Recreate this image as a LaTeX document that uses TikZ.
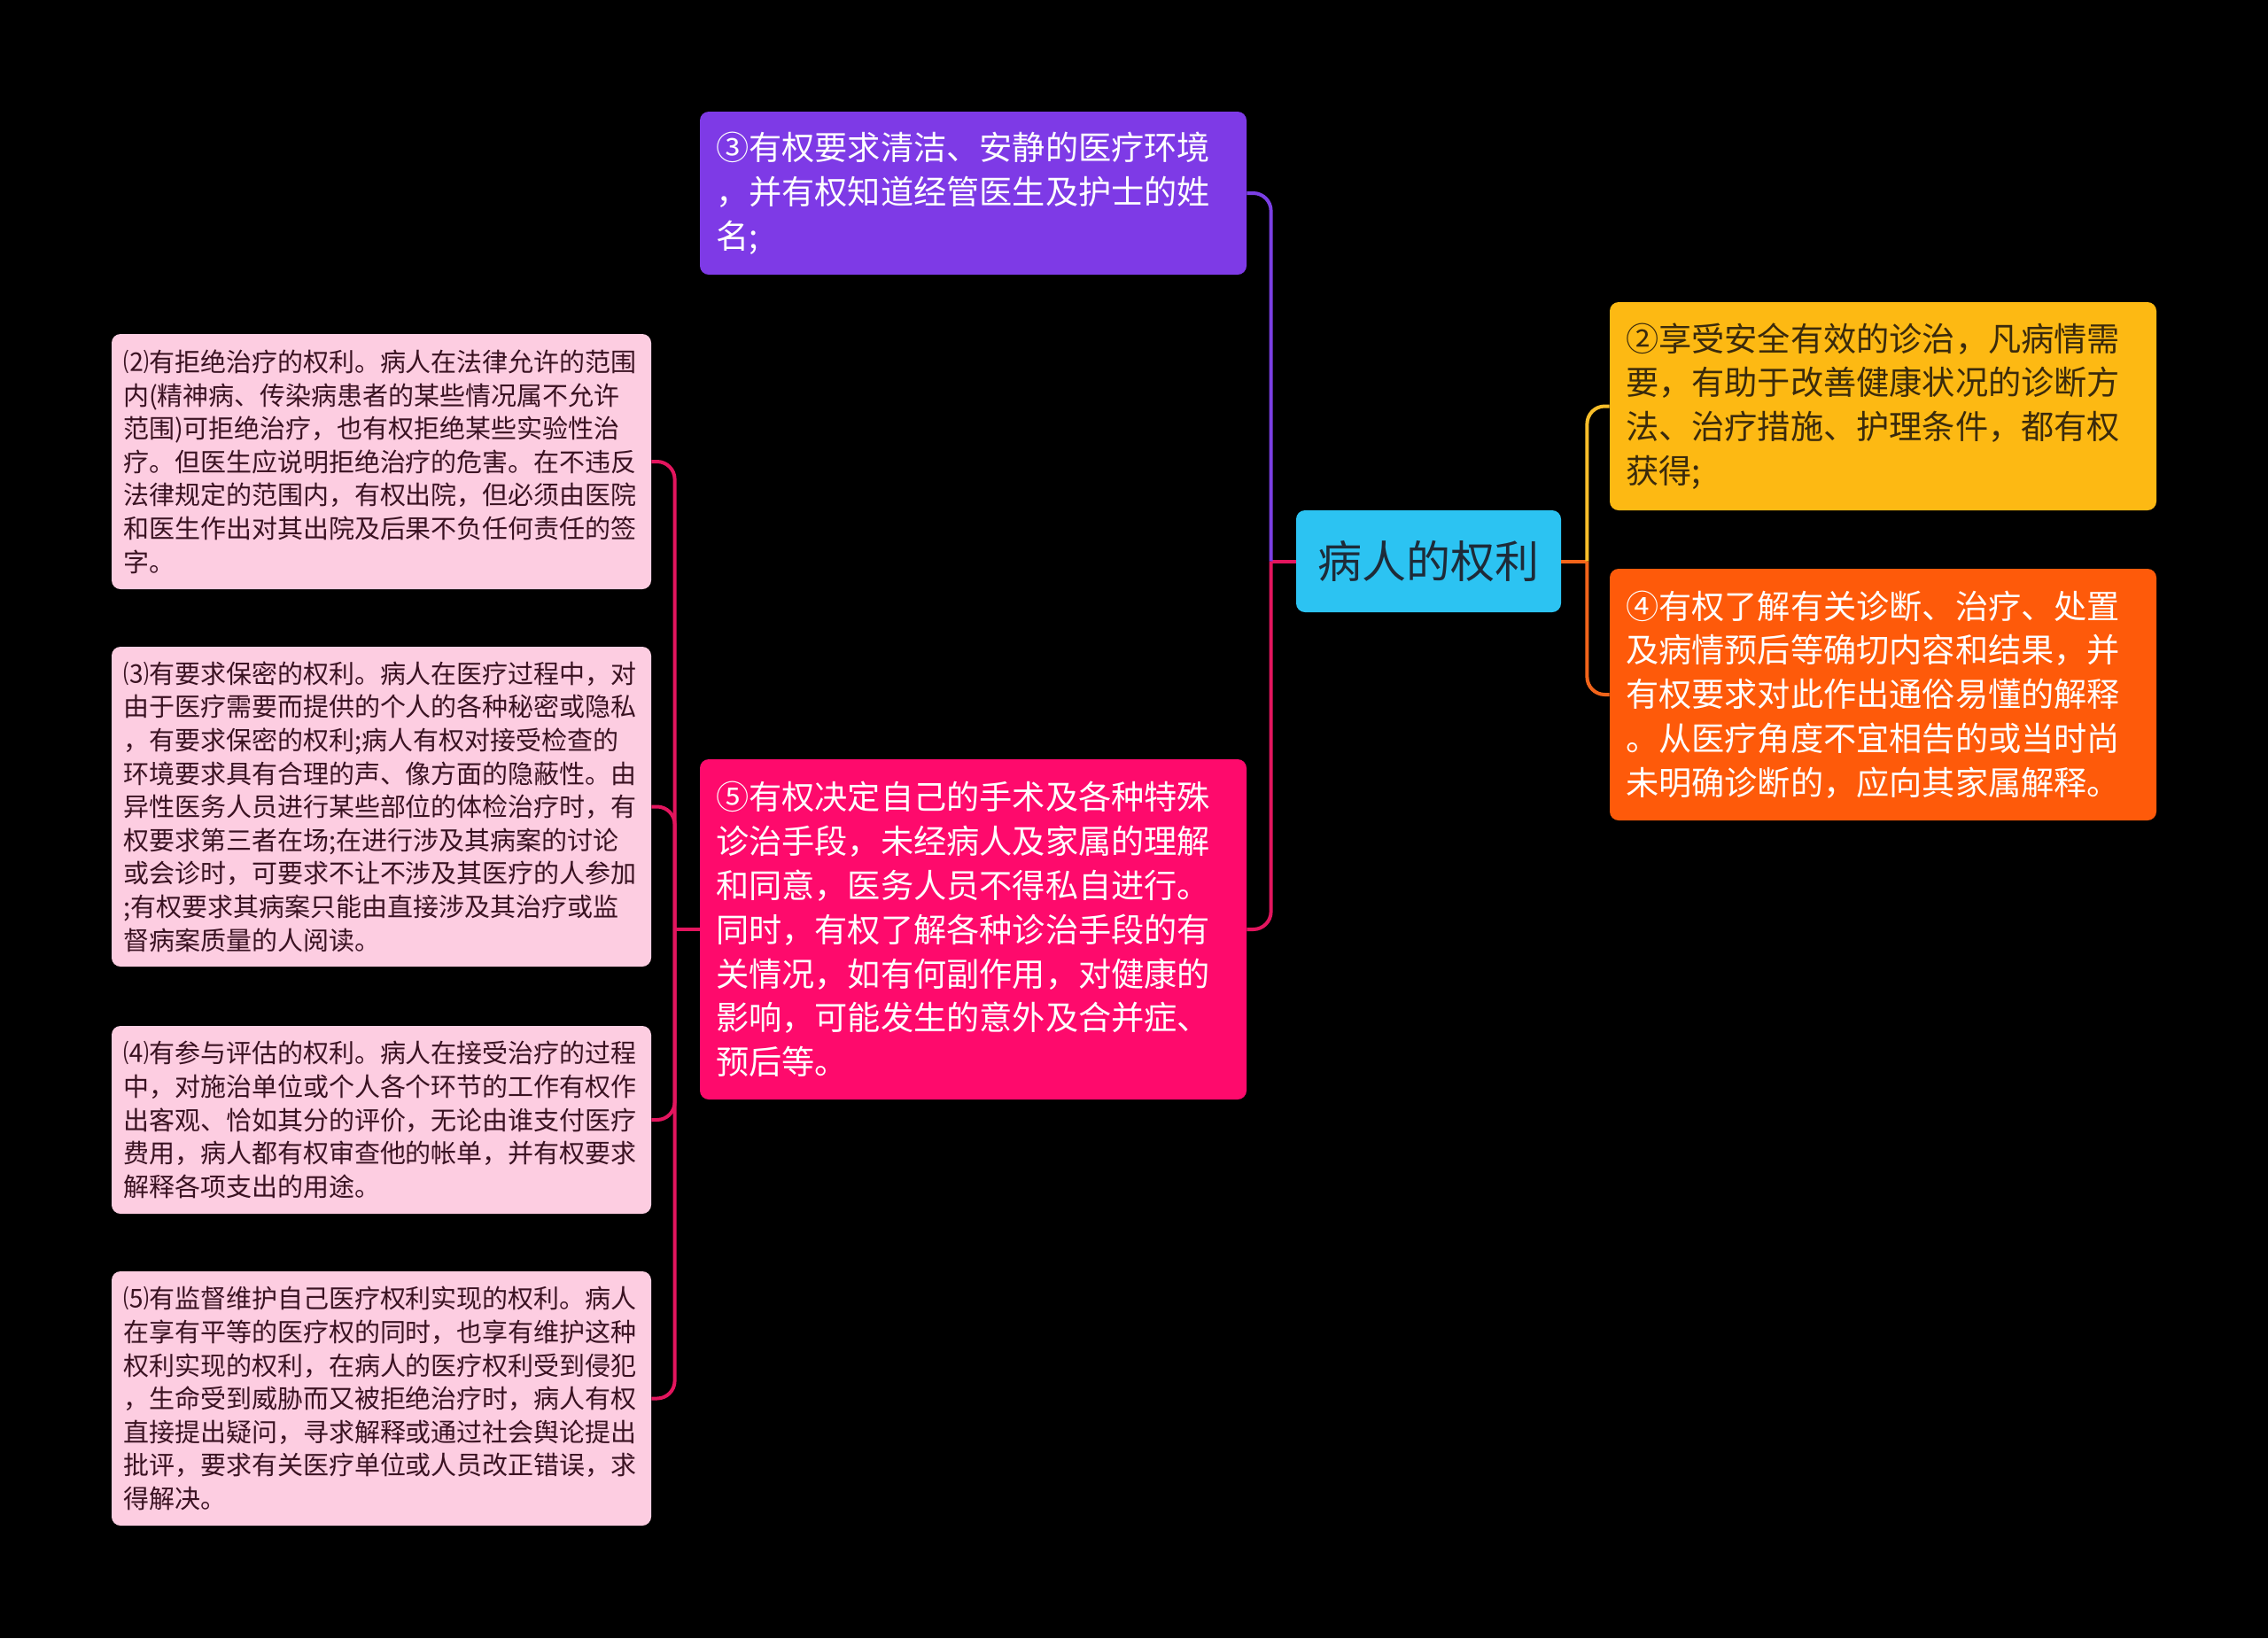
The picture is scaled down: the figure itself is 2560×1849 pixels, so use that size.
\documentclass[tikz,border=0pt]{standalone}
\usepackage{fontspec}
\setmainfont{Noto Sans CJK SC}
\usetikzlibrary{calc}
\definecolor{rootfill}{HTML}{2CC3F2}
\definecolor{roottext}{HTML}{1E2B38}
\definecolor{purplefill}{HTML}{7E3AE6}
\definecolor{pinkfill}{HTML}{FE0A6C}
\definecolor{yellowfill}{HTML}{FDB913}
\definecolor{yellowtext}{HTML}{3A2A0C}
\definecolor{orangefill}{HTML}{FE5A0A}
\definecolor{lightfill}{HTML}{FDCDE1}
\definecolor{lighttext}{HTML}{3A1222}
\definecolor{purpleline}{HTML}{7B3FE4}
\definecolor{pinkline}{HTML}{E3155E}
\definecolor{yellowline}{HTML}{F8BE2A}
\definecolor{orangeline}{HTML}{F2641A}
\tikzset{
  box/.style={rounded corners=5pt, inner ysep=0pt, align=left, anchor=center},
  bigbox/.style={box, inner xsep=9pt, text width=290.5pt, minimum width=308.5pt,
    font=\fontsize{18.6pt}{24.9pt}\selectfont},
  leftbox/.style={box, fill=lightfill, text=lighttext, inner xsep=6.5pt, text width=291.5pt,
    minimum width=304.5pt, font=\fontsize{14.5pt}{18.8pt}\selectfont},
  rootbox/.style={box, fill=rootfill, text=roottext, align=center, inner xsep=0pt,
    minimum width=149.5pt, minimum height=57.5pt, font=\fontsize{25pt}{30pt}\selectfont},
  conn/.style={line width=2pt, rounded corners=10pt},
}
\begin{document}
\begin{tikzpicture}[x=0.5pt,y=-0.5pt]
\useasboundingbox (0,0) rectangle (2560,1849);
\fill[black] (0,0) rectangle (2560,1849);

\node[rootbox] (root) at (1612.5,633.5) {病人的权利};

\node[bigbox, fill=purplefill, text=white, minimum height=92pt] (p3) at (1098.5,218)
  {③有权要求清洁、安静的医疗环境\\，并有权知道经管医生及护士的姓\\名;};
\node[bigbox, fill=pinkfill, text=white, minimum height=192pt] (p5) at (1098.5,1049)
  {⑤有权决定自己的手术及各种特殊\\诊治手段，未经病人及家属的理解\\和同意，医务人员不得私自进行。\\同时，有权了解各种诊治手段的有\\关情况，如有何副作用，对健康的\\影响，可能发生的意外及合并症、\\预后等。};
\node[bigbox, fill=yellowfill, text=yellowtext, minimum height=117.5pt] (p2) at (2125.5,458.5)
  {②享受安全有效的诊治，凡病情需\\要，有助于改善健康状况的诊断方\\法、治疗措施、护理条件，都有权\\获得;};
\node[bigbox, fill=orangefill, text=white, minimum height=142pt] (p4) at (2125.5,784)
  {④有权了解有关诊断、治疗、处置\\及病情预后等确切内容和结果，并\\有权要求对此作出通俗易懂的解释\\。从医疗角度不宜相告的或当时尚\\未明确诊断的，应向其家属解释。};

\node[leftbox, minimum height=144pt] (l2) at (430.5,521)
  {⑵有拒绝治疗的权利。病人在法律允许的范围\\内(精神病、传染病患者的某些情况属不允许\\范围)可拒绝治疗，也有权拒绝某些实验性治\\疗。但医生应说明拒绝治疗的危害。在不违反\\法律规定的范围内，有权出院，但必须由医院\\和医生作出对其出院及后果不负任何责任的签\\字。};
\node[leftbox, minimum height=180.5pt] (l3) at (430.5,910.5)
  {⑶有要求保密的权利。病人在医疗过程中，对\\由于医疗需要而提供的个人的各种秘密或隐私\\，有要求保密的权利;病人有权对接受检查的\\环境要求具有合理的声、像方面的隐蔽性。由\\异性医务人员进行某些部位的体检治疗时，有\\权要求第三者在场;在进行涉及其病案的讨论\\或会诊时，可要求不让不涉及其医疗的人参加\\;有权要求其病案只能由直接涉及其治疗或监\\督病案质量的人阅读。};
\node[leftbox, minimum height=106pt] (l4) at (430.5,1264)
  {⑷有参与评估的权利。病人在接受治疗的过程\\中，对施治单位或个人各个环节的工作有权作\\出客观、恰如其分的评价，无论由谁支付医疗\\费用，病人都有权审查他的帐单，并有权要求\\解释各项支出的用途。};
\node[leftbox, minimum height=143.5pt] (l5) at (430.5,1578.5)
  {⑸有监督维护自己医疗权利实现的权利。病人\\在享有平等的医疗权的同时，也享有维护这种\\权利实现的权利，在病人的医疗权利受到侵犯\\，生命受到威胁而又被拒绝治疗时，病人有权\\直接提出疑问，寻求解释或通过社会舆论提出\\批评，要求有关医疗单位或人员改正错误，求\\得解决。};

% connectors
\coordinate (rj) at ($(root.west)+(-28,0)$);
\coordinate (rr) at ($(root.east)+(29,0)$);
\coordinate (lj) at ($(p5.west)+(-28,0)$);

\draw[conn, pinkline] (root.west) -- (rj);
\draw[conn, purpleline] (rj) |- (p3.east);
\draw[conn, pinkline] (rj) |- (p5.east);

\draw[conn, orangeline] (root.east) -- (rr);
\draw[conn, yellowline] (rr) |- (p2.west);
\draw[conn, orangeline] (rr) |- (p4.west);

\draw[conn, pinkline] (p5.west) -- (lj);
\draw[conn, pinkline] (lj) |- (l2.east);
\draw[conn, pinkline] (lj) |- (l3.east);
\draw[conn, pinkline] (lj) |- (l4.east);
\draw[conn, pinkline] (lj) |- (l5.east);
\end{tikzpicture}
\end{document}
